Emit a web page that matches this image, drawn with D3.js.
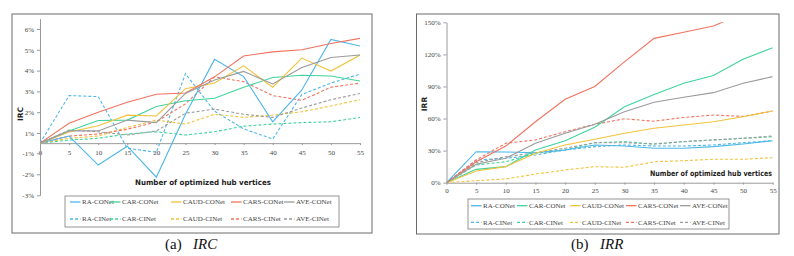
<!DOCTYPE html>
<html>
<head>
<meta charset="utf-8">
<script src="https://cdn.jsdelivr.net/npm/d3@7"></script>
<style>
  body { margin: 0; background: #fff; }
  svg { display: block; }
  .tick text { font-family: "Liberation Serif", serif; font-size: 7px; fill: #444; }
  .tick line, .domain { stroke: #9a9a9a; }
  .axis-title { font-family: "DejaVu Sans", sans-serif; font-weight: bold; font-size: 7.5px; fill: #222; }
  .legend-text { font-family: "Liberation Serif", serif; font-size: 7px; fill: #444; }
  .caption { font-family: "Liberation Serif", serif; font-size: 15px; fill: #111; }
</style>
</head>
<body>
<div id="chart-container"></div>
<script>
// number of optimized hub vertices
const hubs = [0, 5, 10, 15, 20, 25, 30, 35, 40, 45, 50, 55];
const methods = ["RA", "CAR", "CAUD", "CARS", "AVE"];
const colors = ["#4db6e9", "#3fd49b", "#f1c33c", "#f2735f", "#9b9b9b"];

// IRC (%), rows follow methods
const ircCONet = [
  [0, 0.7, -1.56, -0.3, -2.14, 1.9, 4.54, 3.71, 1.54, 3.07, 5.5, 5.18],
  [0, 1.1, 1.6, 1.62, 2.27, 2.55, 2.67, 3.2, 3.67, 3.78, 3.74, 3.5],
  [0, 1.05, 1.35, 1.86, 1.82, 3.13, 3.4, 4.23, 3.2, 4.6, 3.98, 4.75],
  [0, 1.47, 2.0, 2.48, 2.86, 2.92, 3.7, 4.7, 4.9, 5.0, 5.3, 5.55],
  [0, 1.1, 1.1, 1.62, 1.5, 2.9, 3.55, 3.96, 3.36, 4.15, 4.63, 4.75]
];
const ircCINet = [
  [0, 2.8, 2.75, -0.5, -0.9, 3.85, 2.05, 1.2, 0.41, 2.85, 3.4, 3.83],
  [0, 0.3, 0.48, 0.9, 1.06, 0.8, 1.06, 1.33, 1.43, 1.5, 1.54, 1.75],
  [0, 0.48, 0.7, 1.27, 1.62, 1.43, 1.9, 1.75, 1.86, 2.02, 2.3, 2.6],
  [0, 0.7, 0.9, 1.18, 1.54, 2.4, 3.7, 3.47, 2.8, 2.57, 3.2, 3.4],
  [0, 1.14, 1.06, 0.8, 1.1, 1.95, 2.15, 1.9, 1.75, 2.2, 2.6, 2.9]
];
const ircTicks = [6, 5, 4, 3, 2, 1, -1, -2, -3];

// IRR (%), rows follow methods
const irrCONet = [
  [0, 29, 28.7, 28, 30.6, 35.3, 34.3, 32.2, 32.2, 33.7, 36.2, 39.3],
  [0, 12.5, 15, 30.6, 39.3, 51.8, 71, 82.5, 93, 100.3, 115.4, 126.3],
  [0, 10.9, 15, 27.5, 35.3, 40.7, 46.2, 50.9, 54, 57, 61.7, 67.1],
  [0, 19.6, 34.3, 57, 78, 90, 113, 135, 140.7, 146.6, 158, null],
  [0, 17.2, 22.8, 36.9, 46.2, 54.6, 66.4, 75.2, 79.9, 84.2, 93, 99.2]
];
const irrCINet = [
  [0, 21.2, 22.8, 25.9, 30.6, 33.7, 35.3, 34.3, 34.3, 35.3, 37.4, 39.3],
  [0, 16.6, 19.6, 27.5, 30.6, 37.4, 38.4, 36.2, 38.4, 40, 41.5, 43],
  [0, 1.9, 3.5, 8.1, 11.9, 15, 14.4, 19.6, 20.6, 21.9, 21.9, 23.4],
  [0, 21.2, 36.9, 40, 47.7, 54.6, 59.8, 57.5, 61, 63.3, 62, 67.1],
  [0, 18.7, 24.3, 28, 32.2, 37.4, 37.4, 36.2, 38.4, 40, 41.5, 43.7]
];
const irrTicks = [0, 30, 60, 90, 120, 150];

const svg = d3.select("#chart-container")
  .append("svg")
    .attr("width", 794)
    .attr("height", 256);

// draw one panel
function drawPanel(p) {
  const g = svg.append("g");

  // frame
  g.append("rect")
    .attr("x", p.frame[0]).attr("y", p.frame[1])
    .attr("width", p.frame[2] - p.frame[0]).attr("height", p.frame[3] - p.frame[1])
    .attr("fill", "none").attr("stroke", "#6a6a6a").attr("stroke-width", 1);

  // axes
  g.append("g")
    .attr("transform", `translate(0, ${p.y(0)})`)
    .call(d3.axisBottom(p.x).tickValues(hubs).tickSize(2).tickSizeOuter(0).tickPadding(p.xPad));
  g.append("g")
    .attr("transform", `translate(${p.x(0)}, 0)`)
    .call(d3.axisLeft(p.y).tickValues(p.yTicks).tickFormat(d => d + "%").tickSize(3).tickSizeOuter(0).tickPadding(3));

  // clip so lines stay inside the axis range
  const clipId = "clip-" + p.name;
  const yr = p.y.range();
  svg.append("clipPath").attr("id", clipId)
    .append("rect")
      .attr("x", p.x(0)).attr("y", d3.min(yr))
      .attr("width", p.x(55) - p.x(0)).attr("height", d3.max(yr) - d3.min(yr));

  const line = d3.line()
    .defined(d => d != null)
    .x((d, i) => p.x(hubs[i]))
    .y(d => p.y(d));

  const lines = g.append("g").attr("clip-path", `url(#${clipId})`);
  p.cinet.forEach((vals, k) => {
    lines.append("path")
      .attr("d", line(vals))
      .attr("fill", "none")
      .attr("stroke", colors[k])
      .attr("stroke-width", 1.1)
      .attr("stroke-dasharray", "3,2");
  });
  p.conet.forEach((vals, k) => {
    lines.append("path")
      .attr("d", line(vals))
      .attr("fill", "none")
      .attr("stroke", colors[k])
      .attr("stroke-width", 1.1);
  });

  // axis titles
  g.append("text")
    .attr("class", "axis-title")
    .attr("transform", `translate(${p.yTitle[0]}, ${p.yTitle[1]}) rotate(-90)`)
    .attr("text-anchor", "middle")
    .attr("dy", "0.35em")
    .text(p.yLabel);
  g.append("text")
    .attr("class", "axis-title")
    .attr("x", p.xTitle[0])
    .attr("y", p.xTitle[1])
    .attr("dy", "0.35em")
    .attr("textLength", p.xTitle[2])
    .attr("lengthAdjust", "spacingAndGlyphs")
    .text("Number of optimized hub vertices");

  // legend
  const lb = p.legendBox;
  g.append("rect")
    .attr("x", lb[0]).attr("y", lb[1])
    .attr("width", lb[2] - lb[0]).attr("height", lb[3] - lb[1])
    .attr("fill", "#fff").attr("stroke", "#7a7a7a").attr("stroke-width", 0.8);
  [["CONet", null], ["CINet", "3,2"]].forEach(([suffix, dash], r) => {
    methods.forEach((m, k) => {
      const tx = p.legendCols[k];
      const ty = p.legendRows[r];
      g.append("line")
        .attr("x1", tx - 12).attr("x2", tx - 1.5)
        .attr("y1", ty).attr("y2", ty)
        .attr("stroke", colors[k]).attr("stroke-width", 1.3)
        .attr("stroke-dasharray", dash);
      g.append("text")
        .attr("class", "legend-text")
        .attr("x", tx).attr("y", ty).attr("dy", "0.35em")
        .text(`${m}-${suffix}`);
    });
  });

  // caption
  g.append("text").attr("class", "caption")
    .attr("x", p.caption[0]).attr("y", 249).text(p.captionTag);
  g.append("text").attr("class", "caption")
    .attr("x", p.caption[1]).attr("y", 249)
    .style("font-style", "italic")
    .text(p.yLabel);
}

// (a) IRC
drawPanel({
  name: "irc",
  frame: [12, 14, 372, 233],
  x: d3.scaleLinear().domain([0, 55]).range([40, 360]),
  y: d3.scaleLinear().domain([-3, -1, 1, 6.5]).range([195.3, 153.3, 133, 18.6]),
  yTicks: ircTicks,
  xPad: 5,
  conet: ircCONet,
  cinet: ircCINet,
  yLabel: "IRC",
  yTitle: [20, 114],
  xTitle: [135, 182, 136],
  legendBox: [65, 196, 339, 227],
  legendRows: [202, 219],
  legendCols: [82, 122, 183, 243, 296],
  captionTag: "(a)",
  caption: [165, 193]
});

// (b) IRR
drawPanel({
  name: "irr",
  frame: [416.5, 14, 779, 234],
  x: d3.scaleLinear().domain([0, 55]).range([446.5, 772.7]),
  y: d3.scaleLinear().domain([0, 150]).range([182.7, 22.3]),
  yTicks: irrTicks,
  xPad: 3.5,
  conet: irrCONet,
  cinet: irrCINet,
  yLabel: "IRR",
  yTitle: [424, 104],
  xTitle: [650, 173.3, 122],
  legendBox: [468, 199, 729, 229],
  legendRows: [205.7, 222.3],
  legendCols: [483, 529, 582, 638, 692],
  captionTag: "(b)",
  caption: [571, 600]
});
</script>
</body>
</html>
